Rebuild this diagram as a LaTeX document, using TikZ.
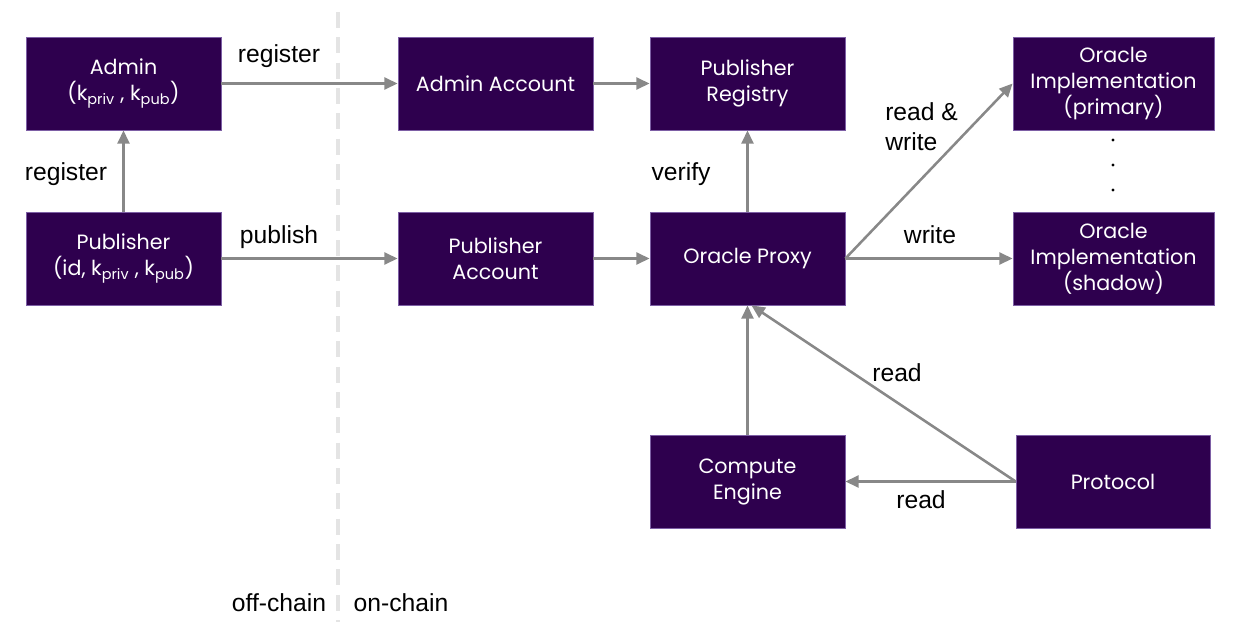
\documentclass[tikz,border=0pt]{standalone}
\usepackage{fontspec}
\setmainfont{Liberation Sans}
\newfontfamily\boxfont{Poppins}
\usetikzlibrary{arrows.meta}
\definecolor{boxpurple}{RGB}{46,0,78}
\definecolor{boxedge}{RGB}{125,95,165}
\definecolor{arrowgray}{RGB}{136,136,136}
\definecolor{dividergray}{RGB}{228,228,228}
\tikzset{
  block/.style={draw=boxedge, line width=0.6pt, fill=boxpurple, text=white,
    minimum width=146.25pt, minimum height=69.75pt, align=center, inner sep=0pt,
    font=\boxfont\fontsize{15.5}{19.5}\selectfont},
  wide block/.style={block, minimum width=150.75pt},
  flow/.style={draw=arrowgray, line width=1.9pt, -{Triangle[length=10pt,width=9pt]}},
  lbl/.style={font=\fontsize{18.5}{22.5}\selectfont, inner sep=0pt, anchor=base},
  divider/.style={draw=dividergray, line width=2.4pt, dash pattern=on 12pt off 7pt},
}

\begin{document}
\begin{tikzpicture}[x=0.75pt,y=-0.75pt]
\useasboundingbox (0,0) rectangle (1239,629);
% off-chain / on-chain divider
\draw[divider] (338,12) -- (338,622);
\node[lbl] (offchain) at (279,611) {off-chain};
\node[lbl] (onchain) at (401,611) {on-chain};

% boxes
\node[block] (admin) at (123.5,83.5) {Admin\\(k\textsubscript{priv} , k\textsubscript{pub})};
\node[block] (publisher) at (123.5,258.5) {Publisher\\(id, k\textsubscript{priv} , k\textsubscript{pub})};
\node[block] (adminacc) at (495.5,83.5) {Admin Account};
\node[block] (pubacc) at (495.5,258.5) {Publisher\\Account};
\node[block] (registry) at (747.5,83.5) {Publisher\\Registry};
\node[block] (proxy) at (747.5,258.5) {Oracle Proxy};
\node[wide block] (primary) at (1113.5,83.5) {Oracle\\Implementation\\(primary)};
\node[wide block] (shadow) at (1113.5,258.5) {Oracle\\Implementation\\(shadow)};
\node[block] (compute) at (747.5,481.5) {Compute\\Engine};
\node[block, minimum width=145.5pt] (protocol) at (1113,481.5) {Protocol};

% more implementations
\foreach \y in {140,165,190}
  \fill (1113,\y) circle (1.7);

% arrows
\draw[flow] (admin) -- (adminacc);
\draw[flow] (adminacc) -- (registry);
\draw[flow] (publisher) -- (admin);
\draw[flow] (publisher) -- (pubacc);
\draw[flow] (pubacc) -- (proxy);
\draw[flow] (proxy) -- (registry);
\draw[flow] (proxy.east) -- (primary.west);
\draw[flow] (proxy) -- (shadow);
\draw[flow] (compute) -- (proxy);
\draw[flow] (protocol.west) -- ([xshift=3pt]proxy.south);
\draw[flow] (protocol) -- (compute);

% arrow labels
\node[lbl] (regtop) at (279,62) {register};
\node[lbl] (regleft) at (66,180) {register};
\node[lbl] (publish) at (279,243) {publish};
\node[lbl] (verify) at (681,180) {verify};
\node[lbl, anchor=base west, align=left] (readwrite) at (885,150) {read \&\\write};
\node[lbl] (write) at (930,243) {write};
\node[lbl] (readup) at (897,381) {read};
\node[lbl] (readlow) at (921,508) {read};
\end{tikzpicture}
\end{document}
